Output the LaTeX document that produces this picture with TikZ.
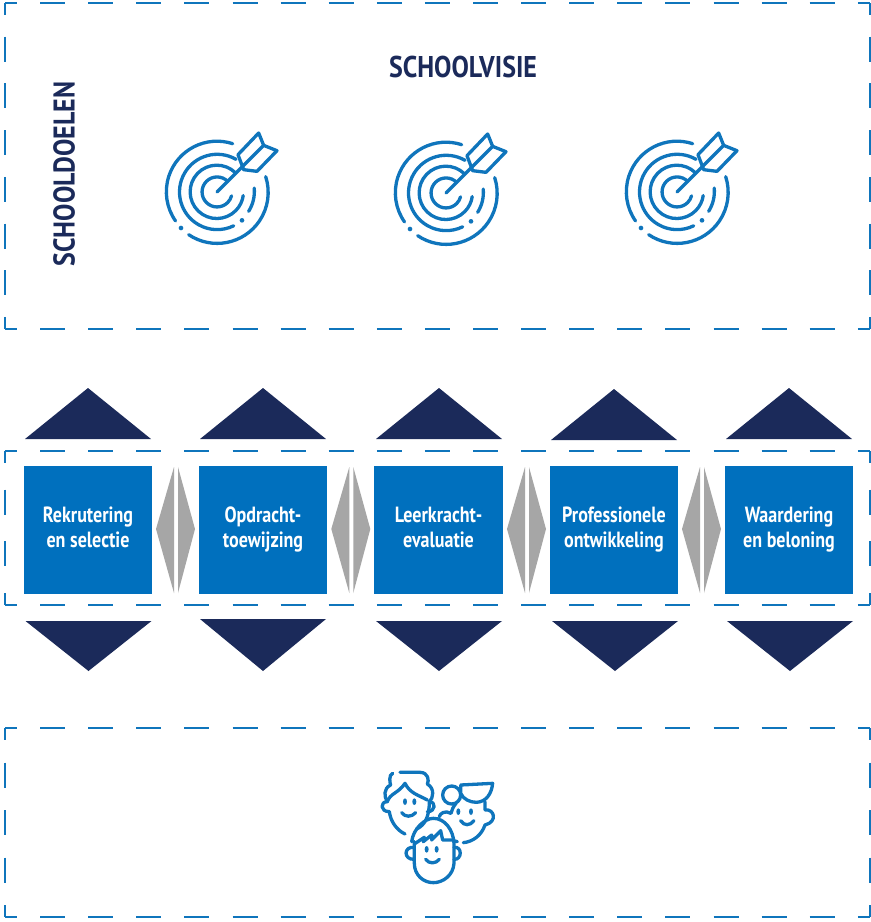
\documentclass[tikz,border=0pt]{standalone}
\usepackage{fontspec}
\setmainfont{PT Sans}
\newfontfamily\stagefont{PT Sans}[FakeStretch=0.82]
\newfontfamily\headfont{PT Sans}[FakeStretch=0.865]
\definecolor{iblue}{HTML}{0F75BC}
\definecolor{boxblue}{HTML}{0070BE}
\definecolor{navy}{HTML}{1B2A5A}
\definecolor{tgray}{HTML}{A6A6A6}
\tikzset{
  frameside/.style={draw=iblue,line width=1.7pt},
  stagebox/.style={fill=boxblue,minimum width=128pt,minimum height=128pt,inner sep=0pt,align=center,text=white,font=\stagefont\fontsize{22}{25}\selectfont\bfseries},
  heading/.style={text=navy,font=\headfont\fontsize{30}{32}\selectfont\bfseries,inner sep=0pt},
  icon/.style={draw=iblue,line width=3.3pt,line cap=round,line join=round},
  icondot/.style={fill=iblue,draw=none},
  updown/.style={fill=navy,draw=none},
  side/.style={fill=tgray,draw=none}
}
\newcommand{\stagelabel}[2]{\rule{0pt}{16.5pt}#1\\#2\rule[-7.5pt]{0pt}{7.5pt}}
\newcommand{\frameit}[6]{% x0 y0 x1 y1 offH offV
  \draw[frameside,dash pattern=on 25pt off #5pt,dash phase=13pt] (#1,#2)--(#3,#2);
  \draw[frameside,dash pattern=on 25pt off #5pt,dash phase=13pt] (#1,#4)--(#3,#4);
  \draw[frameside,dash pattern=on 25pt off #6pt,dash phase=13pt] (#1,#2)--(#1,#4);
  \draw[frameside,dash pattern=on 25pt off #6pt,dash phase=13pt] (#3,#2)--(#3,#4);
}
\newcommand{\targeticon}[2]{%
\begin{scope}[shift={(#1,#2)},x=0.3333pt,y=-0.3333pt]
  \draw[icon] (47,-145) arc[start angle=-72,end angle=-215,x radius=152,y radius=152];
  \fill[icondot] (-108,108) circle (7);
  \draw[icon] (-85,128) arc[start angle=-236,end angle=-378,x radius=153,y radius=153];
  \draw[icon] (57,-98) arc[start angle=-60,end angle=-296,x radius=113,y radius=113];
  \fill[icondot] (75,85) circle (7);
  \draw[icon] (95,58) arc[start angle=-328,end angle=-365,x radius=113,y radius=113];
  \draw[icon] (55,-58) arc[start angle=-46,end angle=-352,x radius=80,y radius=80];
  \draw[icon] (32,-32) arc[start angle=-45,end angle=-345,x radius=45,y radius=45];
  \draw[icon] (0,0)--(140,-140);
  \draw[icon] (63,-112)--(125,-177)--(140,-140)--(180,-124)--(120,-62)--(80,-67)--cycle;
\end{scope}}
\begin{document}
\begin{tikzpicture}[x=1pt,y=-1pt]
\useasboundingbox (0,0) rectangle (871,922);
\fill[white] (0,0) rectangle (871,922);
\frameit{5}{3}{870}{329}{23.1}{21.7}
\frameit{5}{451}{870}{605}{23.1}{26.7}
\frameit{5}{728}{870}{917}{23.1}{22.5}
\node[heading] (visie) at (463,67) {SCHOOLVISIE};
\node[heading,rotate=90] (doelen) at (64,174) {SCHOOLDOELEN};
\targeticon{217}{192}
\targeticon{446}{193}
\targeticon{677}{192}
\node[stagebox] (s1) at (88,530) {\stagelabel{Rekrutering}{en selectie}};
\node[stagebox] (s2) at (263,530) {\stagelabel{Opdracht-}{toewijzing}};
\node[stagebox,minimum width=129pt] (s3) at (438.5,530) {\stagelabel{Leerkracht-}{evaluatie}};
\node[stagebox] (s4) at (614,530) {\stagelabel{Professionele}{ontwikkeling}};
\node[stagebox] (s5) at (789,530) {\stagelabel{Waardering}{en beloning}};
\foreach \x/\yy in {88/0,263/0,439/0,614/1,789/0}{
  \fill[updown] (\x-63,439+\yy)--(\x,388+\yy)--(\x+63,439+\yy)--cycle;
}
\foreach \x/\yy in {88.5/621,263/619,439/621,615/621,790/621}{
  \fill[updown] (\x-63,\yy)--(\x+63,\yy)--(\x,671)--cycle;
}
\foreach \dx in {0,175.3,351,526}{
  \fill[side] (156+\dx,529)--(174+\dx,467)--(174+\dx,593)--cycle;
  \fill[side] (178+\dx,467)--(195+\dx,529)--(178+\dx,593)--cycle;
}
% people
\begin{scope}[shift={(370,760)},x=0.3333pt,y=-0.3333pt]
  % left face
  \draw[icon] (90,37) -- (150,37) .. controls (175,37) and (178,62) .. (172,72) .. controls (195,85) and (190,115) .. (178,125) .. controls (178,170) and (165,195) .. (140,207);
  \draw[icon] (68,40) .. controls (55,45) and (60,70) .. (62,75) .. controls (40,85) and (42,110) .. (52,125) .. controls (30,125) and (30,155) .. (58,155) .. controls (62,185) and (80,210) .. (105,222);
  \draw[icon] (52,125) .. controls (60,100) and (85,100) .. (105,70) .. controls (120,100) and (145,105) .. (172,120);
  \draw[icon] (178,125) .. controls (198,125) and (198,155) .. (172,155);
  \draw[icon] (95,158) .. controls (105,172) and (125,172) .. (137,158);
  \fill[icondot] (105,125) ellipse (6 and 10);
  \fill[icondot] (133,125) ellipse (6 and 10);
  % right face
  \draw[icon] (272,75) -- (368,70) .. controls (365,100) and (350,125) .. (320,127) .. controls (300,127) and (280,118) .. (272,100) -- (272,75);
  \draw[icon] (245,105) circle (27);
  \draw[icon] (258,130) .. controls (250,140) and (245,150) .. (243,160) .. controls (225,150) and (210,160) .. (208,170);
  \draw[icon] (345,125) -- (345,150) .. controls (372,145) and (385,185) .. (345,195) .. controls (335,225) and (310,245) .. (280,248);
  \draw[icon] (255,243) -- (262,245);
  \draw[icon] (272,182) .. controls (282,198) and (300,198) .. (312,182);
  \fill[icondot] (265,155) ellipse (6 and 10);
  \fill[icondot] (303,155) ellipse (6 and 10);
  % front face
  \draw[icon] (125,245) .. controls (130,205) and (165,175) .. (190,175) .. controls (225,175) and (250,210) .. (252,250) -- (252,310) .. controls (250,345) and (220,368) .. (190,368) .. controls (160,368) and (133,345) .. (133,310) -- (133,245);
  \draw[icon] (133,252) -- (163,232) -- (160,245) -- (185,225) -- (185,240) -- (212,212) -- (218,240) -- (252,240);
  \draw[icon] (133,262) .. controls (100,258) and (100,300) .. (133,298);
  \draw[icon] (252,262) .. controls (277,258) and (277,300) .. (252,298);
  \draw[icon] (167,298) .. controls (177,312) and (197,312) .. (208,298);
  \fill[icondot] (170,268) ellipse (6 and 10);
  \fill[icondot] (200,268) ellipse (6 and 10);
\end{scope}
\end{tikzpicture}
\end{document}
